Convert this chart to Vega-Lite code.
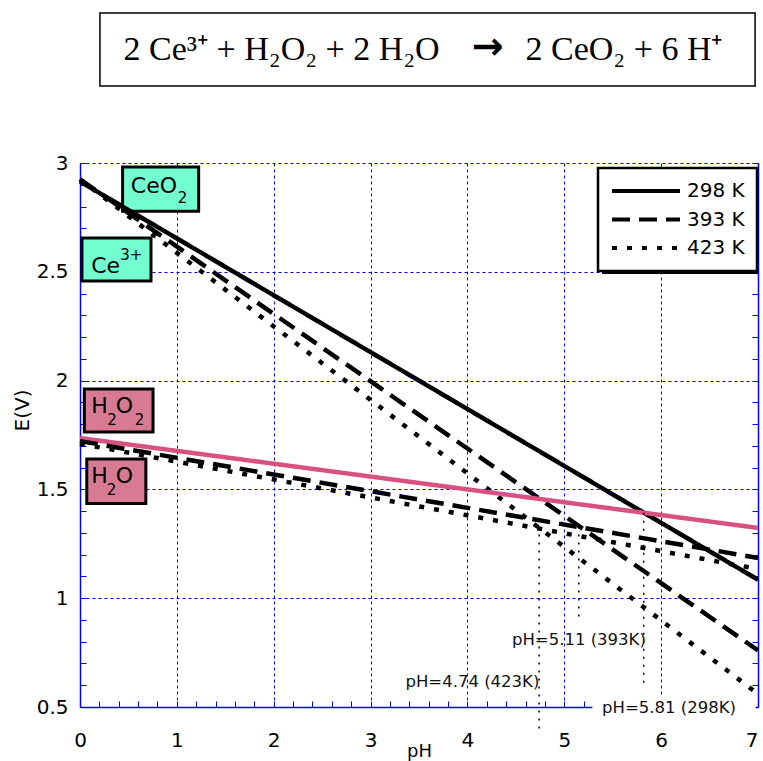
{
  "$schema": "https://vega.github.io/schema/vega-lite/v6.json",
  "width": 678,
  "height": 544,
  "autosize": {"type": "none"},
  "padding": {"left": 80, "top": 163, "right": 5, "bottom": 54},
  "background": "white",
  "config": {"view": {"stroke": null}, "font": "DejaVu Sans", "legend": {"strokeWidth": 2.5}},
  "datasets": {
    "curves": [
      {"series": "Ce 298", "T": "298 K", "pH": 0, "E": 2.915},
      {"series": "Ce 298", "T": "298 K", "pH": 7, "E": 1.085},
      {"series": "Ce 393", "T": "393 K", "pH": 0, "E": 2.925},
      {"series": "Ce 393", "T": "393 K", "pH": 7, "E": 0.76},
      {"series": "Ce 423", "T": "423 K", "pH": 0, "E": 2.925},
      {"series": "Ce 423", "T": "423 K", "pH": 7, "E": 0.56},
      {"series": "H2O2 298", "T": "298 K", "pH": 0, "E": 1.736},
      {"series": "H2O2 298", "T": "298 K", "pH": 7, "E": 1.323},
      {"series": "H2O2 393", "T": "393 K", "pH": 0, "E": 1.722},
      {"series": "H2O2 393", "T": "393 K", "pH": 7, "E": 1.185},
      {"series": "H2O2 423", "T": "423 K", "pH": 0, "E": 1.71},
      {"series": "H2O2 423", "T": "423 K", "pH": 7, "E": 1.134}
    ],
    "verticals": [
      {"pH": 4.74, "E1": 1.33, "E2": 0.4},
      {"pH": 5.15, "E1": 1.33, "E2": 0.9},
      {"pH": 5.82, "E1": 1.393, "E2": 0.6}
    ],
    "notes": [
      {"text": "pH=5.11 (393K)", "pH": 4.46, "E": 0.808},
      {"text": "pH=4.74 (423K)", "pH": 3.36, "E": 0.615},
      {"text": "pH=5.81 (298K)", "pH": 5.39, "E": 0.495}
    ],
    "noteback": [
      {"x1": 5.29, "x2": 6.975, "y1": 0.555, "y2": 0.44}
    ],
    "boxes": [
      {"kind": "ox", "x1": 0.44, "x2": 1.225, "y1": 2.982, "y2": 2.778},
      {"kind": "ox", "x1": 0.02, "x2": 0.733, "y1": 2.655, "y2": 2.458},
      {"kind": "h", "x1": 0.045, "x2": 0.754, "y1": 1.961, "y2": 1.764},
      {"kind": "h", "x1": 0.07, "x2": 0.68, "y1": 1.64, "y2": 1.435}
    ],
    "boxmain": [
      {"text": "CeO", "pH": 0.525, "E": 2.862},
      {"text": "Ce", "pH": 0.115, "E": 2.494},
      {"text": "H", "pH": 0.115, "E": 1.851},
      {"text": "O", "pH": 0.37, "E": 1.851},
      {"text": "H", "pH": 0.115, "E": 1.529},
      {"text": "O", "pH": 0.37, "E": 1.529}
    ],
    "boxsmall": [
      {"text": "2", "pH": 1.01, "E": 2.816},
      {"text": "3+", "pH": 0.415, "E": 2.556},
      {"text": "2", "pH": 0.282, "E": 1.796},
      {"text": "2", "pH": 0.565, "E": 1.796},
      {"text": "2", "pH": 0.275, "E": 1.474}
    ],
    "titlebox": [
      {"x1": 0.206, "x2": 6.97, "y1": 3.689, "y2": 3.354}
    ],
    "titletext": [
      {"text": "2 Ce³⁺ + H₂O₂ + 2 H₂O", "pH": 0.45, "E": 3.52},
      {"text": "2 CeO₂ + 6 H⁺", "pH": 4.6, "E": 3.52}
    ],
    "arrow": [
      {"text": "→", "pH": 4.21, "E": 3.527}
    ],
    "shadow": [
      {"x1": 5.39, "x2": 7.0, "y1": 2.959, "y2": 2.49}
    ]
  },
  "layer": [
    {
      "data": {"name": "titlebox"},
      "mark": {"type": "rect", "fill": "white", "stroke": "black", "strokeWidth": 1.5},
      "encoding": {
        "x": {"field": "x1", "type": "quantitative", "scale": {"domain": [0, 7], "nice": false, "zero": false}, "axis": null},
        "x2": {"field": "x2"},
        "y": {"field": "y1", "type": "quantitative", "scale": {"domain": [0.5, 3], "nice": false, "zero": false}, "axis": null},
        "y2": {"field": "y2"}
      }
    },
    {
      "data": {"name": "titletext"},
      "mark": {"type": "text", "font": "Liberation Serif", "fontSize": 34, "align": "left", "baseline": "middle", "color": "black"},
      "encoding": {
        "x": {"field": "pH", "type": "quantitative", "axis": null},
        "y": {"field": "E", "type": "quantitative", "axis": null},
        "text": {"field": "text"}
      }
    },
    {
      "data": {"name": "arrow"},
      "mark": {"type": "text", "font": "DejaVu Sans", "fontWeight": "bold", "fontSize": 38, "align": "center", "baseline": "middle", "color": "black"},
      "encoding": {
        "x": {"field": "pH", "type": "quantitative", "axis": null},
        "y": {"field": "E", "type": "quantitative", "axis": null},
        "text": {"field": "text"}
      }
    },
    {
      "data": {"name": "shadow"},
      "mark": {"type": "rect", "fill": "black"},
      "encoding": {
        "x": {"field": "x1", "type": "quantitative", "axis": null},
        "x2": {"field": "x2"},
        "y": {"field": "y1", "type": "quantitative", "axis": null},
        "y2": {"field": "y2"}
      }
    },
    {
      "data": {"name": "boxes"},
      "mark": {"type": "rect", "stroke": "black", "strokeWidth": 3},
      "encoding": {
        "x": {"field": "x1", "type": "quantitative", "axis": null},
        "x2": {"field": "x2"},
        "y": {"field": "y1", "type": "quantitative", "axis": null},
        "y2": {"field": "y2"},
        "fill": {"field": "kind", "type": "nominal", "scale": {"domain": ["ox", "h"], "range": ["#73FFD0", "#D97A94"]}, "legend": null}
      }
    },
    {
      "data": {"name": "boxmain"},
      "mark": {"type": "text", "font": "DejaVu Sans", "fontSize": 22, "align": "left", "baseline": "alphabetic", "color": "black"},
      "encoding": {
        "x": {"field": "pH", "type": "quantitative", "axis": null},
        "y": {"field": "E", "type": "quantitative", "axis": null},
        "text": {"field": "text"}
      }
    },
    {
      "data": {"name": "boxsmall"},
      "mark": {"type": "text", "font": "DejaVu Sans", "fontSize": 15, "align": "left", "baseline": "alphabetic", "color": "black"},
      "encoding": {
        "x": {"field": "pH", "type": "quantitative", "axis": null},
        "y": {"field": "E", "type": "quantitative", "axis": null},
        "text": {"field": "text"}
      }
    },
    {
      "data": {"name": "curves"},
      "mark": {"type": "line", "strokeWidth": 4.5, "strokeCap": "butt"},
      "encoding": {
        "x": {
          "field": "pH", "type": "quantitative",
          "scale": {"domain": [0, 7], "nice": false, "zero": false},
          "axis": {
            "orient": "bottom",
            "values": [0, 0.2, 0.4, 0.6, 0.8, 1, 1.2, 1.4, 1.6, 1.8, 2, 2.2, 2.4, 2.6, 2.8, 3, 3.2, 3.4, 3.6, 3.8, 4, 4.2, 4.4, 4.6, 4.8, 5, 5.2, 5.4, 5.6, 5.8, 6, 6.2, 6.4, 6.6, 6.8, 7],
            "labelExpr": "abs(datum.value - round(datum.value)) < 0.001 ? '' + round(datum.value) : ''",
            "labelAlign": {"condition": {"test": "datum.value > 6.9", "value": "right"}, "value": "center"},
            "labelOverlap": false, "labelBound": false, "labelFlush": false,
            "labelFont": "DejaVu Sans", "labelFontSize": 20, "labelColor": "black", "labelPadding": 29,
            "title": "pH", "titleFont": "DejaVu Sans", "titleFontSize": 18, "titleFontWeight": "normal", "titleColor": "black",
            "titleY": 35, "titleBaseline": "top",
            "tickSize": -6, "tickColor": "#0000FF", "tickWidth": 1,
            "domainColor": "#0000FF", "domainWidth": 1.5,
            "grid": true, "gridColor": "#0000FF", "gridDash": [3, 3], "gridWidth": 1,
            "gridOpacity": {"condition": {"test": "abs(datum.value - round(datum.value)) < 0.001", "value": 1}, "value": 0}
          }
        },
        "y": {
          "field": "E", "type": "quantitative",
          "scale": {"domain": [0.5, 3], "nice": false, "zero": false},
          "axis": {
            "orient": "left",
            "values": [0.5, 0.6, 0.7, 0.8, 0.9, 1, 1.1, 1.2, 1.3, 1.4, 1.5, 1.6, 1.7, 1.8, 1.9, 2, 2.1, 2.2, 2.3, 2.4, 2.5, 2.6, 2.7, 2.8, 2.9, 3],
            "labelExpr": "abs(datum.value * 2 - round(datum.value * 2)) < 0.001 ? format(datum.value, '~g') : ''",
            "labelOverlap": false, "labelBound": false, "labelFlush": false,
            "labelFont": "DejaVu Sans", "labelFontSize": 20, "labelColor": "black", "labelPadding": 18,
            "title": "E(V)", "titleFont": "DejaVu Sans", "titleFontSize": 20, "titleFontWeight": "normal", "titleColor": "black",
            "titleY": 247,
            "tickSize": -6, "tickColor": "#0000FF", "tickWidth": 1,
            "domainColor": "#0000FF", "domainWidth": 1.5,
            "grid": true, "gridColor": "#0000FF", "gridDash": [3, 3], "gridWidth": 1,
            "gridOpacity": {"condition": {"test": "abs(datum.value * 2 - round(datum.value * 2)) < 0.001", "value": 1}, "value": 0}
          }
        },
        "stroke": {
          "field": "series", "type": "nominal",
          "scale": {"domain": ["Ce 298", "Ce 393", "Ce 423", "H2O2 298", "H2O2 393", "H2O2 423"], "range": ["#000000", "#000000", "#000000", "#D9527F", "#000000", "#000000"]},
          "legend": null
        },
        "strokeDash": {
          "field": "T", "type": "nominal",
          "scale": {"domain": ["298 K", "393 K", "423 K"], "range": [[1, 0], [18, 9], [5, 10]]},
          "legend": {
            "title": null, "orient": "none", "legendX": 518, "legendY": 5,
            "symbolType": "stroke", "symbolSize": 4624, "symbolStrokeWidth": 4, "symbolStrokeColor": "black",
            "clipHeight": 22, "rowPadding": 6.5, "padding": 12, "labelOffset": 5,
            "labelFont": "DejaVu Sans", "labelFontSize": 20, "labelColor": "black",
            "strokeColor": "black", "fillColor": "white"
          }
        }
      }
    },
    {
      "data": {"name": "verticals"},
      "mark": {"type": "rule", "color": "black", "strokeWidth": 1.5, "strokeDash": [2, 6]},
      "encoding": {
        "x": {"field": "pH", "type": "quantitative", "axis": null},
        "y": {
          "field": "E1", "type": "quantitative",
          "axis": {
            "orient": "right",
            "values": [0.5, 0.6, 0.7, 0.8, 0.9, 1, 1.1, 1.2, 1.3, 1.4, 1.5, 1.6, 1.7, 1.8, 1.9, 2, 2.1, 2.2, 2.3, 2.4, 2.5, 2.6, 2.7, 2.8, 2.9, 3],
            "labels": false, "title": null, "grid": false,
            "tickSize": -6, "tickColor": "#0000FF", "tickWidth": 1,
            "domainColor": "#0000FF", "domainWidth": 1.5
          }
        },
        "y2": {"field": "E2"}
      }
    },
    {
      "data": {"name": "noteback"},
      "mark": {"type": "rect", "fill": "white"},
      "encoding": {
        "x": {"field": "x1", "type": "quantitative", "axis": null},
        "x2": {"field": "x2"},
        "y": {"field": "y1", "type": "quantitative", "axis": null},
        "y2": {"field": "y2"}
      }
    },
    {
      "data": {"name": "notes"},
      "mark": {"type": "text", "font": "DejaVu Sans", "fontSize": 16.5, "align": "left", "baseline": "middle", "color": "#111111"},
      "encoding": {
        "x": {"field": "pH", "type": "quantitative", "axis": null},
        "y": {"field": "E", "type": "quantitative", "axis": null},
        "text": {"field": "text"}
      }
    }
  ],
  "resolve": {"axis": {"x": "independent", "y": "independent"}}
}
